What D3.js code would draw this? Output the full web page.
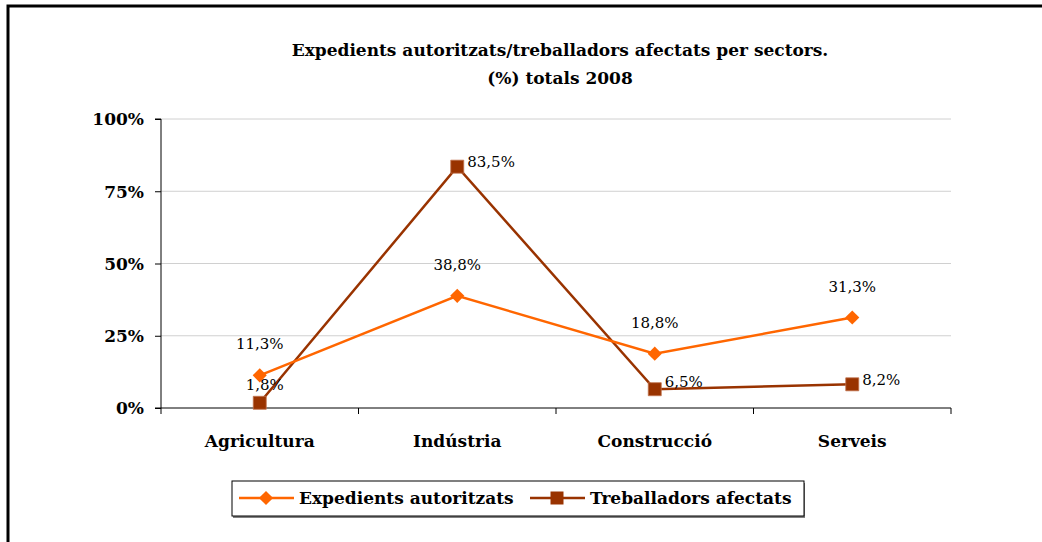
<!DOCTYPE html>
<html>
<head>
<meta charset="utf-8">
<script src="https://cdn.jsdelivr.net/npm/d3@7"></script>
<style>
  body { margin: 0; background: #fff; }
  svg text { font-family: "DejaVu Serif", "Liberation Serif", serif; fill: #000; }
</style>
</head>
<body>
<svg id="chart" width="1042" height="542"></svg>
<script>
var sectors = ["Agricultura", "Indústria", "Construcció", "Serveis"];
var expedients = [11.3, 38.8, 18.8, 31.3];
var treballadors = [1.8, 83.5, 6.5, 8.2];
var yTicks = [0, 25, 50, 75, 100];
var titleLines = ["Expedients autoritzats/treballadors afectats per sectors.", "(%) totals 2008"];
var seriesNames = ["Expedients autoritzats", "Treballadors afectats"];

var orange = "#ff6600",
    brown = "#993300";

var svg = d3.select("#chart");

// outer frame
svg.append("rect")
    .attr("x", 8).attr("y", 6)
    .attr("width", 1100).attr("height", 600)
    .attr("fill", "none").attr("stroke", "#000").attr("stroke-width", 3);

var plot = { left: 161, right: 951, top: 119, bottom: 408 };

var x = d3.scaleBand()
    .domain(sectors)
    .range([plot.left, plot.right]);

var y = d3.scaleLinear()
    .domain([0, 100])
    .range([plot.bottom, plot.top]);

// title
svg.append("text")
    .attr("x", 560).attr("y", 56)
    .attr("text-anchor", "middle")
    .style("font-weight", "bold").style("font-size", "17px")
    .selectAll("tspan")
    .data(titleLines)
    .enter().append("tspan")
    .attr("x", 560)
    .attr("dy", function(d, i) { return i ? 28 : 0; })
    .text(function(d) { return d; });

// gridlines
svg.append("g")
    .selectAll("line")
    .data(yTicks.filter(function(d) { return d > 0; }))
    .enter().append("line")
    .attr("x1", plot.left).attr("x2", plot.right)
    .attr("y1", function(d) { return y(d); })
    .attr("y2", function(d) { return y(d); })
    .attr("stroke", "#d0d0d0").attr("stroke-width", 1);

// y axis
var yAxis = d3.axisLeft(y)
    .tickValues(yTicks)
    .tickSize(6)
    .tickFormat(function(d) { return d + "%"; });

var gy = svg.append("g")
    .attr("transform", "translate(" + plot.left + ",0)")
    .call(yAxis);
gy.select(".domain").attr("stroke", "#000").attr("d", "M-6," + plot.top + "H0V" + plot.bottom + "H-6");
gy.selectAll(".tick line").attr("stroke", "#000");
gy.selectAll(".tick text")
    .attr("x", -17)
    .attr("dy", "0.35em")
    .style("font-family", "'DejaVu Serif', serif")
    .style("font-weight", "bold").style("font-size", "17px").attr("fill", "#000");

// x axis
var gx = svg.append("g")
    .attr("transform", "translate(0," + plot.bottom + ")");
gx.append("line")
    .attr("x1", plot.left).attr("x2", plot.right)
    .attr("stroke", "#000");
gx.selectAll(".xtick")
    .data(sectors.concat([null]))
    .enter().append("line")
    .attr("class", "xtick")
    .attr("x1", function(d) { return d === null ? plot.right : x(d); })
    .attr("x2", function(d) { return d === null ? plot.right : x(d); })
    .attr("y1", 0).attr("y2", 6)
    .attr("stroke", "#000");
gx.selectAll(".xlabel")
    .data(sectors)
    .enter().append("text")
    .attr("class", "xlabel")
    .attr("x", function(d) { return x(d) + x.bandwidth() / 2; })
    .attr("y", 39)
    .attr("text-anchor", "middle")
    .style("font-weight", "bold").style("font-size", "17px")
    .text(function(d) { return d; });

var cx = function(d, i) { return x(sectors[i]) + x.bandwidth() / 2; };

var line = d3.line()
    .x(function(d, i) { return cx(d, i); })
    .y(function(d) { return y(d); });

var fmt = function(v) { return v.toFixed(1).replace(".", ",") + "%"; };

// treballadors line
svg.append("path")
    .datum(treballadors)
    .attr("d", line)
    .attr("fill", "none").attr("stroke", brown).attr("stroke-width", 2.5);

// expedients line
svg.append("path")
    .datum(expedients)
    .attr("d", line)
    .attr("fill", "none").attr("stroke", orange).attr("stroke-width", 2.5);

var diamond = d3.symbol().type(d3.symbolSquare).size(100);
var square = d3.symbol().type(d3.symbolSquare).size(169);

svg.append("g").selectAll("path")
    .data(treballadors)
    .enter().append("path")
    .attr("d", square)
    .attr("transform", function(d, i) { return "translate(" + cx(d, i) + "," + y(d) + ")"; })
    .attr("fill", brown).attr("stroke", "#c0724c").attr("stroke-width", 0.8);

svg.append("g").selectAll("path")
    .data(expedients)
    .enter().append("path")
    .attr("d", diamond)
    .attr("transform", function(d, i) { return "translate(" + cx(d, i) + "," + y(d) + ")rotate(45)"; })
    .attr("fill", orange);

// labels
svg.append("g").selectAll("text")
    .data(expedients)
    .enter().append("text")
    .attr("x", function(d, i) { return cx(d, i); })
    .attr("y", function(d) { return y(d) - 26; })
    .attr("text-anchor", "middle")
    .style("font-size", "15px")
    .text(fmt);

svg.append("g").selectAll("text")
    .data(treballadors)
    .enter().append("text")
    .attr("x", function(d, i) { return i === 0 ? cx(d, i) + 5 : cx(d, i) + 10; })
    .attr("y", function(d, i) { return i === 0 ? y(d) - 13 : y(d) - (i === 2 ? 2 : -1) - (i === 1 ? 1 : 0); })
    .attr("text-anchor", function(d, i) { return i === 0 ? "middle" : "start"; })
    .style("font-size", "15px")
    .text(fmt);

// legend
var legend = svg.append("g").attr("transform", "translate(232,481)");
legend.append("rect")
    .attr("x", 1).attr("y", 2).attr("width", 572).attr("height", 35)
    .attr("fill", "#808080");
legend.append("rect")
    .attr("x", 0).attr("y", 0).attr("width", 572).attr("height", 35)
    .attr("fill", "#fff").attr("stroke", "#000").attr("stroke-width", 1);

var items = [
  { name: seriesNames[0], color: orange, sym: diamond, rot: 45, x: 7 },
  { name: seriesNames[1], color: brown, sym: square, rot: 0, x: 298 }
];
items.forEach(function(it) {
  var g = legend.append("g").attr("transform", "translate(" + it.x + ",17)");
  g.append("line").attr("x1", 0).attr("x2", 55).attr("stroke", it.color).attr("stroke-width", 2.5);
  g.append("path").attr("d", it.sym)
      .attr("transform", "translate(27,0)rotate(" + it.rot + ")")
      .attr("fill", it.color);
  g.append("text").attr("x", 60).attr("y", 6)
      .style("font-weight", "bold").style("font-size", "17px")
      .text(it.name);
});
</script>
</body>
</html>
